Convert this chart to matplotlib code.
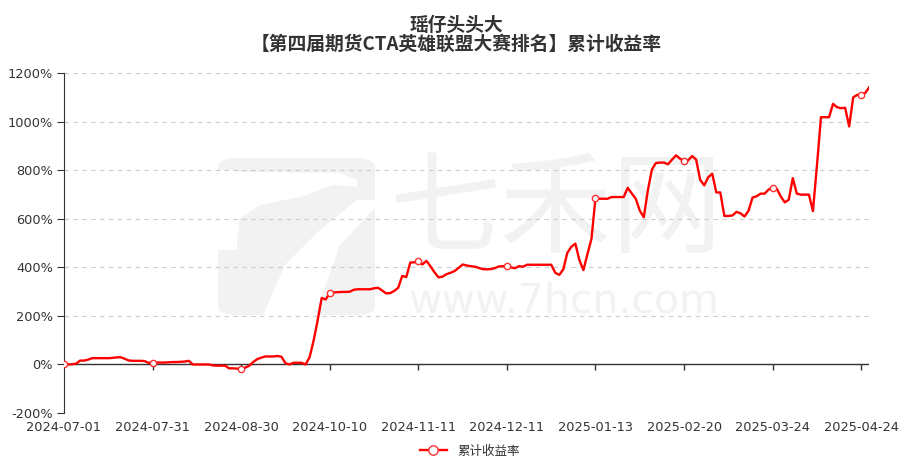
import numpy as np
import pandas as pd
import matplotlib
matplotlib.use('Agg')
import matplotlib.pyplot as plt
from matplotlib.patches import FancyBboxPatch, Polygon

plt.rcParams['font.family'] = ['Noto Sans CJK SC', 'DejaVu Sans']

#------------------------------------------------------------------------------
# DATA
#------------------------------------------------------------------------------
title_top = '瑶仔头头大'
title_sub = '【第四届期货CTA英雄联盟大赛排名】累计收益率'
series_name = '累计收益率'

start_day = '2024-07-01'
end_day = '2025-04-28'
# exchange holidays falling on weekdays
holidays = ['2024-09-16', '2024-09-17',
            '2024-10-01', '2024-10-02', '2024-10-03', '2024-10-04', '2024-10-07',
            '2025-01-01',
            '2025-01-28', '2025-01-29', '2025-01-30', '2025-01-31',
            '2025-02-03', '2025-02-04',
            '2025-04-04']

# cumulative return (%), one value per trading day
returns = [
    0, 0, 1, 3, 16, 16, 20, 26, 26, 26,
    26, 26, 27, 29, 30, 24, 17, 15, 15, 15,
    14, 7, 8, 8, 8, 8, 9, 10, 10, 11,
    12, 15, 0, 0, 0, 0, 0, -4, -5, -5,
    -5, -16, -16, -17, -20, -13, -5, 10, 22, 28,
    33, 33, 33, 35, 32, 5, 0, 7, 7, 7,
    0, 30, 99, 182, 274, 268, 294, 297, 298, 299,
    299, 300, 308, 310, 310, 310, 310, 314, 316, 305,
    293, 294, 303, 316, 365, 360, 420, 421, 425, 412,
    427, 405, 380, 359, 362, 372, 378, 385, 398, 412,
    408, 405, 403, 398, 393, 392, 393, 397, 404, 405,
    404, 400, 397, 405, 403, 411, 411, 411, 411, 411,
    411, 411, 378, 369, 392, 460, 485, 498, 430, 389,
    455, 518, 686, 683, 683, 683, 690, 690, 690, 690,
    728, 705, 683, 634, 607, 717, 803, 830, 832, 832,
    825, 844, 862, 848, 837, 841, 859, 844, 761, 738,
    772, 786, 709, 709, 612, 612, 614, 629, 623, 610,
    633, 688, 693, 704, 704, 721, 729, 725, 693, 668,
    679, 768, 704, 700, 700, 700, 632, 820, 1019, 1019,
    1019, 1074, 1060, 1056, 1058, 981, 1101, 1111, 1112, 1119,
    1143,
]

y_ticks = [-200, 0, 200, 400, 600, 800, 1000, 1200]
label_every = 22

#------------------------------------------------------------------------------
# TRADING DAYS
#------------------------------------------------------------------------------
days = pd.bdate_range(start_day, end_day)
days = days[~days.isin(pd.to_datetime(holidays))]
day_labels = list(days.strftime('%Y-%m-%d'))

x = np.arange(len(returns))
label_pos = x[::label_every]

#------------------------------------------------------------------------------
# PLOT
#------------------------------------------------------------------------------
W, H = 912, 468
fig = plt.figure(figsize=(W / 100, H / 100), dpi=100)
ax = fig.add_axes([64 / W, 1 - 413 / H, (869.3 - 64) / W, (413 - 73.3) / H])


def px(pts):
    # pixel coords (from top-left) -> figure fraction
    return [(a / W, 1 - b / H) for a, b in pts]


# faint site logo + watermark
wm = '#f2f2f2'
logo = FancyBboxPatch((218 / W, 1 - 315 / H), 157 / W, 157 / H,
                      boxstyle='round,pad=0,rounding_size=0.02',
                      transform=fig.transFigure, fc=wm, ec='none', zorder=0)
ax.add_patch(logo)
white_parts = [
    [(218, 170), (237, 170), (237, 250), (218, 250)],
    [(237, 172), (340, 173), (357, 180), (357, 187), (333, 185),
     (300, 197), (260, 205), (240, 218), (237, 240)],
    [(357, 200), (376, 200), (376, 207), (340, 245), (315, 315),
     (263, 315), (285, 265), (320, 230)],
]
for part in white_parts:
    ax.add_patch(Polygon(px(part), closed=True, transform=fig.transFigure,
                         fc='white', ec='none', zorder=0))

ax.text(0.611, 0.592, '七禾网', transform=ax.transAxes, fontsize=80,
        color=wm, ha='center', va='center', zorder=0)
ax.text(0.620, 0.297, 'www.7hcn.com', transform=ax.transAxes, fontsize=29.5,
        color=wm, ha='center', va='baseline', family='DejaVu Sans', zorder=0)

line, = ax.plot(x, returns, color='#ff0000', lw=1.7, marker='o',
                markevery=label_every, mfc='white', mec='#ff3030', ms=4.5,
                mew=1, zorder=3, label=series_name)

ax.set_xlim(0, len(returns) - 1)
ax.set_ylim(-200, 1200)

ax.set_yticks(y_ticks)
ax.set_yticklabels([f'{v}%' for v in y_ticks], family='DejaVu Sans')
ax.grid(axis='y', ls=(0, (4, 4)), color='#cccccc', lw=0.8, zorder=1)

ax.set_xticks(label_pos)
ax.set_xticklabels([day_labels[i] for i in label_pos], family='DejaVu Sans')

ax.tick_params(axis='y', length=5, color='#333333', labelcolor='#333333',
               labelsize=9.3, pad=3)
ax.tick_params(axis='x', length=0, labelcolor='#333333', labelsize=9.3, pad=6)

for s in ['top', 'right', 'bottom']:
    ax.spines[s].set_visible(False)
ax.spines['left'].set_color('#333333')

# x axis sits on zero
ax.axhline(0, color='#333333', lw=1, zorder=2)
ax.vlines(label_pos[1:], -21, 0, color='#333333', lw=1, zorder=2)

fig.text(0.5, 1 - 25 / H, title_top, ha='center', va='center',
         fontsize=13.5, fontweight='bold', color='#333333')
fig.text(0.5, 1 - 44 / H, title_sub, ha='center', va='center',
         fontsize=13.5, fontweight='bold', color='#333333')

fig.legend(handles=[line], loc='center', bbox_to_anchor=(0.515, 1 - 451 / H),
           frameon=False, fontsize=9, markerscale=1.5, handlelength=2.2,
           labelcolor='#333333')

fig.savefig('out.png', dpi=100)
